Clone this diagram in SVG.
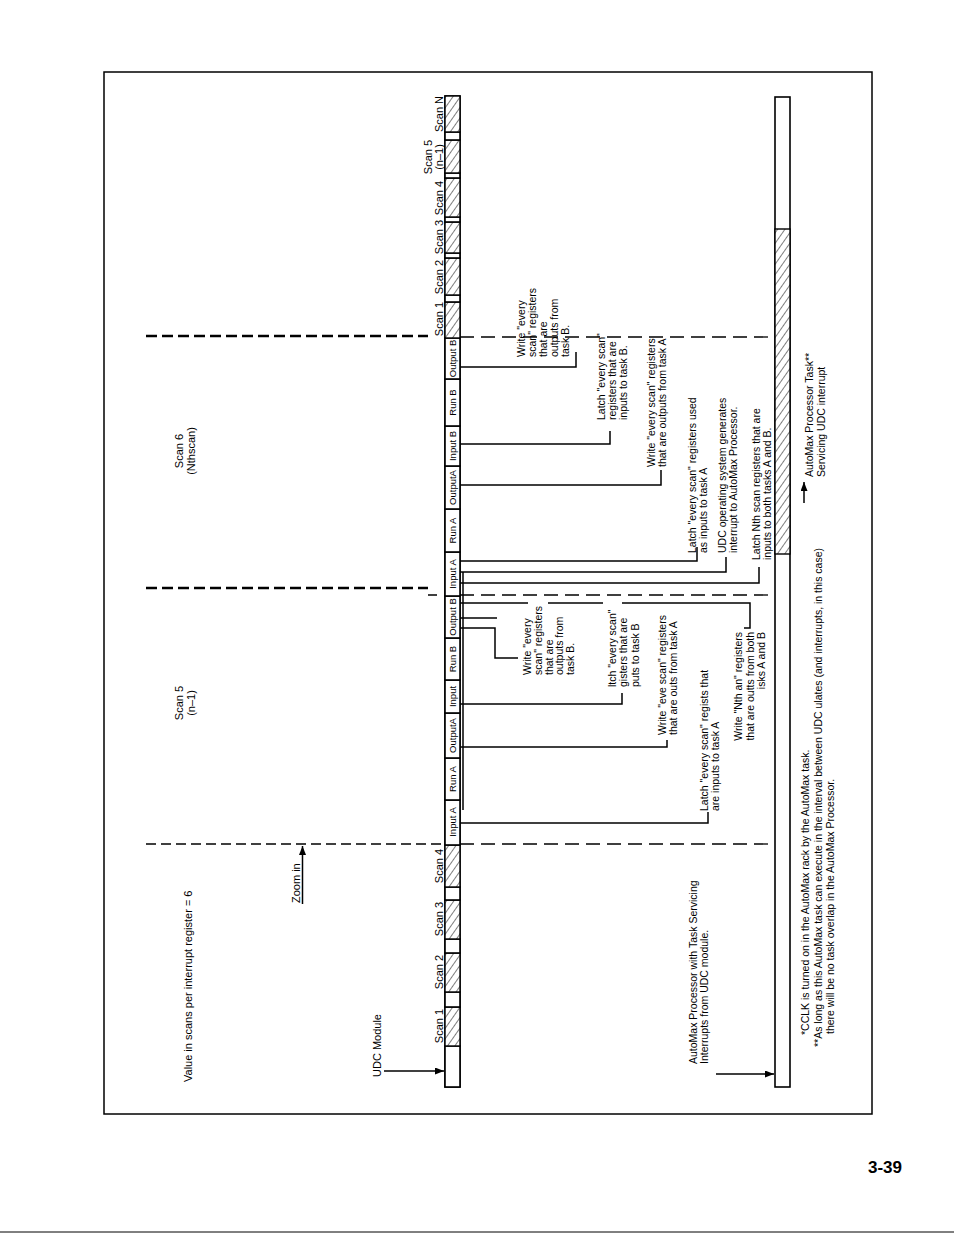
<svg xmlns="http://www.w3.org/2000/svg" width="954" height="1239" viewBox="0 0 954 1239">
<defs>
<style>
.t{font-family:"Liberation Sans",Arial,sans-serif;fill:#000}
.f10{font-size:10.5px}
.f11{font-size:11px}
.seg{font-size:9.5px;text-anchor:middle}
.sc{font-size:11px;text-anchor:middle}
.ln{stroke:#000;stroke-width:1.5;fill:none}
.bar{stroke:#000;stroke-width:1.6;fill:#fff}
.hb{stroke:#000;stroke-width:1.4;fill:url(#hatch)}
.dl{stroke:#000;fill:none;stroke-width:1.6;stroke-dasharray:10 5}
.dk{stroke:#000;fill:none;stroke-width:2.6;stroke-dasharray:11 5}
.dr{stroke:#000;fill:none;stroke-width:1.3;stroke-dasharray:14 7}
</style>
<pattern id="hatch" patternUnits="userSpaceOnUse" width="6" height="6" patternTransform="rotate(35)">
<rect width="6" height="6" fill="#fff"/>
<line x1="0" y1="-1" x2="0" y2="7" stroke="#000" stroke-width="1"/>
</pattern>
<marker id="ah" markerWidth="9" markerHeight="7" refX="9" refY="3.5" orient="auto" markerUnits="userSpaceOnUse">
<path d="M0,0 L9,3.5 L0,7 z" fill="#000"/>
</marker>
</defs>
<rect width="954" height="1239" fill="#fff"/>
<rect id="frame" x="104" y="72" width="768" height="1042" fill="none" stroke="#000" stroke-width="1.5"/>
<line x1="0" y1="1232" x2="954" y2="1232" stroke="#000" stroke-width="1"/>
<text class="t" x="868" y="1173" font-size="17" font-weight="bold">3-39</text>

<!-- dashed scan boundaries -->
<g id="boundaries">
<line class="dk" x1="146" y1="336" x2="428" y2="336"/>
<line class="dk" x1="146" y1="588" x2="428" y2="588"/>
<line class="ln" x1="428" y1="595" x2="437" y2="595"/>
<line class="dl" x1="146" y1="844" x2="445" y2="844"/>
<line class="dr" x1="460" y1="337" x2="775" y2="337"/>
<line class="dr" x1="460" y1="595" x2="775" y2="595"/>
<line class="dr" x1="460" y1="844" x2="775" y2="844"/>
</g>

<!-- UDC module bar -->
<g id="udc-bar">
<rect class="bar" x="445" y="96" width="15" height="991"/>
<rect class="bar" x="445" y="1046" width="15" height="41"/>
<rect class="hb" x="445" y="1007" width="15" height="39"/>
<rect class="bar" x="445" y="992" width="15" height="15"/>
<rect class="hb" x="445" y="953" width="15" height="39"/>
<rect class="bar" x="445" y="939" width="15" height="14"/>
<rect class="hb" x="445" y="900" width="15" height="39"/>
<rect class="bar" x="445" y="887" width="15" height="13"/>
<rect class="hb" x="445" y="845" width="15" height="42"/>
<rect class="bar" x="445" y="800" width="15" height="45"/>
<rect class="bar" x="445" y="758" width="15" height="42"/>
<rect class="bar" x="445" y="713" width="15" height="45"/>
<rect class="bar" x="445" y="680" width="15" height="33"/>
<rect class="bar" x="445" y="638" width="15" height="42"/>
<rect class="bar" x="445" y="596" width="15" height="42"/>
<rect class="bar" x="445" y="552" width="15" height="44"/>
<rect class="bar" x="445" y="509" width="15" height="43"/>
<rect class="bar" x="445" y="466" width="15" height="43"/>
<rect class="bar" x="445" y="426" width="15" height="40"/>
<rect class="bar" x="445" y="379" width="15" height="47"/>
<rect class="bar" x="445" y="338" width="15" height="41"/>
<rect class="hb" x="445" y="302" width="15" height="36"/>
<rect class="bar" x="445" y="295" width="15" height="7"/>
<rect class="hb" x="445" y="258" width="15" height="37"/>
<rect class="bar" x="445" y="253" width="15" height="5"/>
<rect class="hb" x="445" y="222" width="15" height="31"/>
<rect class="bar" x="445" y="217" width="15" height="5"/>
<rect class="hb" x="445" y="178" width="15" height="39"/>
<rect class="bar" x="445" y="173" width="15" height="5"/>
<rect class="hb" x="445" y="140" width="15" height="33"/>
<rect class="bar" x="445" y="132" width="15" height="8"/>
<rect class="hb" x="445" y="96" width="15" height="36"/>
<g class="t seg">
<text transform="translate(455.5,822) rotate(-90)">Input A</text>
<text transform="translate(455.5,779) rotate(-90)">Run A</text>
<text transform="translate(455.5,735.5) rotate(-90)">OutputA</text>
<text transform="translate(455.5,696.5) rotate(-90)">Input</text>
<text transform="translate(455.5,659) rotate(-90)">Run B</text>
<text transform="translate(455.5,617) rotate(-90)">Output B</text>
<text transform="translate(455.5,574) rotate(-90)">Input A</text>
<text transform="translate(455.5,530.5) rotate(-90)">Run A</text>
<text transform="translate(455.5,487.5) rotate(-90)">OutputA</text>
<text transform="translate(455.5,446) rotate(-90)">Input B</text>
<text transform="translate(455.5,402.5) rotate(-90)">Run B</text>
<text transform="translate(455.5,358.5) rotate(-90)">Output B</text>
</g>
</g>

<g id="scan-labels" class="t sc">
<text transform="translate(443,1026) rotate(-90)">Scan 1</text>
<text transform="translate(443,972) rotate(-90)">Scan 2</text>
<text transform="translate(443,919) rotate(-90)">Scan 3</text>
<text transform="translate(443,866) rotate(-90)">Scan 4</text>
<text transform="translate(443,319) rotate(-90)">Scan 1</text>
<text transform="translate(443,277) rotate(-90)">Scan 2</text>
<text transform="translate(443,237) rotate(-90)">Scan 3</text>
<text transform="translate(443,198) rotate(-90)">Scan 4</text>
<text transform="translate(432,157) rotate(-90)">Scan 5</text>
<text transform="translate(443,157) rotate(-90)">(n–1)</text>
<text transform="translate(443,114) rotate(-90)">Scan N</text>
</g>

<!-- AutoMax processor bar -->
<g id="automax-bar">
<rect class="bar" x="775" y="97" width="15" height="990"/>
<rect class="hb" x="775" y="229" width="15" height="325"/>
</g>

<g id="left-labels" class="t f11">
<text transform="translate(192,1082) rotate(-90)">Value in scans per interrupt register = 6</text>
<text transform="translate(381,1077) rotate(-90)">UDC Module</text>
<text transform="translate(300,903) rotate(-90)">Zoom in</text>
<text transform="translate(183,451) rotate(-90)" text-anchor="middle">Scan 6</text>
<text transform="translate(195,451) rotate(-90)" text-anchor="middle">(Nthscan)</text>
<text transform="translate(183,703) rotate(-90)" text-anchor="middle">Scan 5</text>
<text transform="translate(195,703) rotate(-90)" text-anchor="middle">(n–1)</text>
</g>

<g id="automax-label" class="t f10">
<text transform="translate(697,1064) rotate(-90)"><tspan x="0" y="0">AutoMax Processor with Task Servicing</tspan><tspan x="0" y="11">Interrupts from UDC module.</tspan></text>
</g>

<g id="task-label" class="t f10">
<text transform="translate(813,477) rotate(-90)"><tspan x="0" y="0">AutoMax Processor Task**</tspan><tspan x="0" y="12">Servicing UDC interrupt</tspan></text>
</g>

<g id="footnotes" class="t f10">
<text transform="translate(809,1035) rotate(-90)">*CCLK is turned on in the AutoMax rack by the AutoMax task.</text>
<text transform="translate(822,1047) rotate(-90)">**As long as this AutoMax task can execute in the interval between UDC ulates (and interrupts, in this case)</text>
<text transform="translate(834,1034) rotate(-90)">there will be no task overlap in the AutoMax Processor.</text>
</g>

<!-- notes: scan 6 -->
<g id="note-s6-write-b" class="t f10"><text transform="translate(525,357) rotate(-90)"><tspan x="0" y="0">Write "every</tspan><tspan x="0" y="11">scan" registers</tspan><tspan x="0" y="22">that are</tspan><tspan x="0" y="33">outputs from</tspan><tspan x="0" y="44">task B.</tspan></text></g>
<g id="note-s6-latch-b" class="t f10"><text transform="translate(605,420) rotate(-90)"><tspan x="0" y="0">Latch "every scan"</tspan><tspan x="0" y="11.2">registers that are</tspan><tspan x="0" y="22.4">inputs to task B.</tspan></text></g>
<g id="note-s6-write-a" class="t f10"><text transform="translate(655,467) rotate(-90)"><tspan x="0" y="0">Write "every scan" registers</tspan><tspan x="0" y="11">that are outputs from task A</tspan></text></g>
<g id="note-s6-latch-a" class="t f10"><text transform="translate(696,553) rotate(-90)"><tspan x="0" y="0">Latch "every scan" registers used</tspan><tspan x="0" y="11">as inputs to task A</tspan></text></g>
<g id="note-s6-interrupt" class="t f10"><text transform="translate(726,553) rotate(-90)"><tspan x="0" y="0">UDC operating system generates</tspan><tspan x="0" y="11">interrupt to AutoMax Processor.</tspan></text></g>
<g id="note-s6-latch-nth" class="t f10"><text transform="translate(760,560) rotate(-90)"><tspan x="0" y="0">Latch Nth scan registers that are</tspan><tspan x="0" y="11">inputs to both tasks A and B.</tspan></text></g>

<!-- notes: scan 5 -->
<g id="note-s5-write-b" class="t f10"><text transform="translate(531,675) rotate(-90)"><tspan x="0" y="0">Write "every</tspan><tspan x="0" y="10.8">scan" registers</tspan><tspan x="0" y="21.6">that are</tspan><tspan x="0" y="32.4">outputs from</tspan><tspan x="0" y="43.2">task B.</tspan></text></g>
<g id="note-s5-latch-b" class="t f10"><text transform="translate(616,687) rotate(-90)"><tspan x="0" y="0">ltch "every scan"</tspan><tspan x="0" y="11.3">gisters that are</tspan><tspan x="0" y="22.6">puts to task B</tspan></text></g>
<g id="note-s5-write-a" class="t f10"><text transform="translate(666,735) rotate(-90)"><tspan x="0" y="0">Write "eve scan" registers</tspan><tspan x="0" y="11">that are outs from task A</tspan></text></g>
<g id="note-s5-latch-a" class="t f10"><text transform="translate(708,811) rotate(-90)"><tspan x="0" y="0">Latch "every scan" regists that</tspan><tspan x="0" y="10.5">are inputs to task A</tspan></text></g>
<g id="note-s5-write-nth" class="t f10"><text transform="translate(742,632) rotate(-90)" text-anchor="end"><tspan x="0" y="0">Write "Nth an" registers</tspan><tspan x="0" y="11.5">that are outts from both</tspan><tspan x="0" y="23">isks A and B</tspan></text></g>

<!-- connectors -->
<g id="connectors">
<line class="ln" x1="384" y1="1071" x2="444" y2="1071" marker-end="url(#ah)"/>
<line class="ln" x1="716" y1="1074" x2="774" y2="1074" marker-end="url(#ah)"/>
<line class="ln" x1="302.5" y1="904" x2="302.5" y2="846" marker-end="url(#ah)"/>
<line class="ln" x1="804" y1="503" x2="804" y2="482" marker-end="url(#ah)"/>
<polyline class="ln" points="460,367 576,367 576,352"/>
<polyline class="ln" points="460,444 610,444 610,431"/>
<polyline class="ln" points="460,485 661,485 661,470"/>
<polyline class="ln" points="460,561 697,561 697,547"/>
<polyline class="ln" points="460,572 726,572 726,557"/>
<polyline class="ln" points="460,583 759,583 759,567"/>
<line class="ln" x1="463" y1="572" x2="463" y2="810" stroke-width="1.2"/>
<line class="ln" x1="460" y1="603" x2="528" y2="603"/>
<line class="ln" x1="548" y1="603" x2="603" y2="603"/>
<polyline class="ln" points="622,603 750,603 750,628 744,628"/>
<line class="ln" x1="460" y1="618" x2="497" y2="618"/>
<polyline class="ln" points="460,628 495,628 495,658 518,658"/>
<polyline class="ln" points="460,704 622,704 622,693"/>
<polyline class="ln" points="460,747 667,747 667,740"/>
<polyline class="ln" points="460,823 708,823 708,812"/>
</g>
</svg>
